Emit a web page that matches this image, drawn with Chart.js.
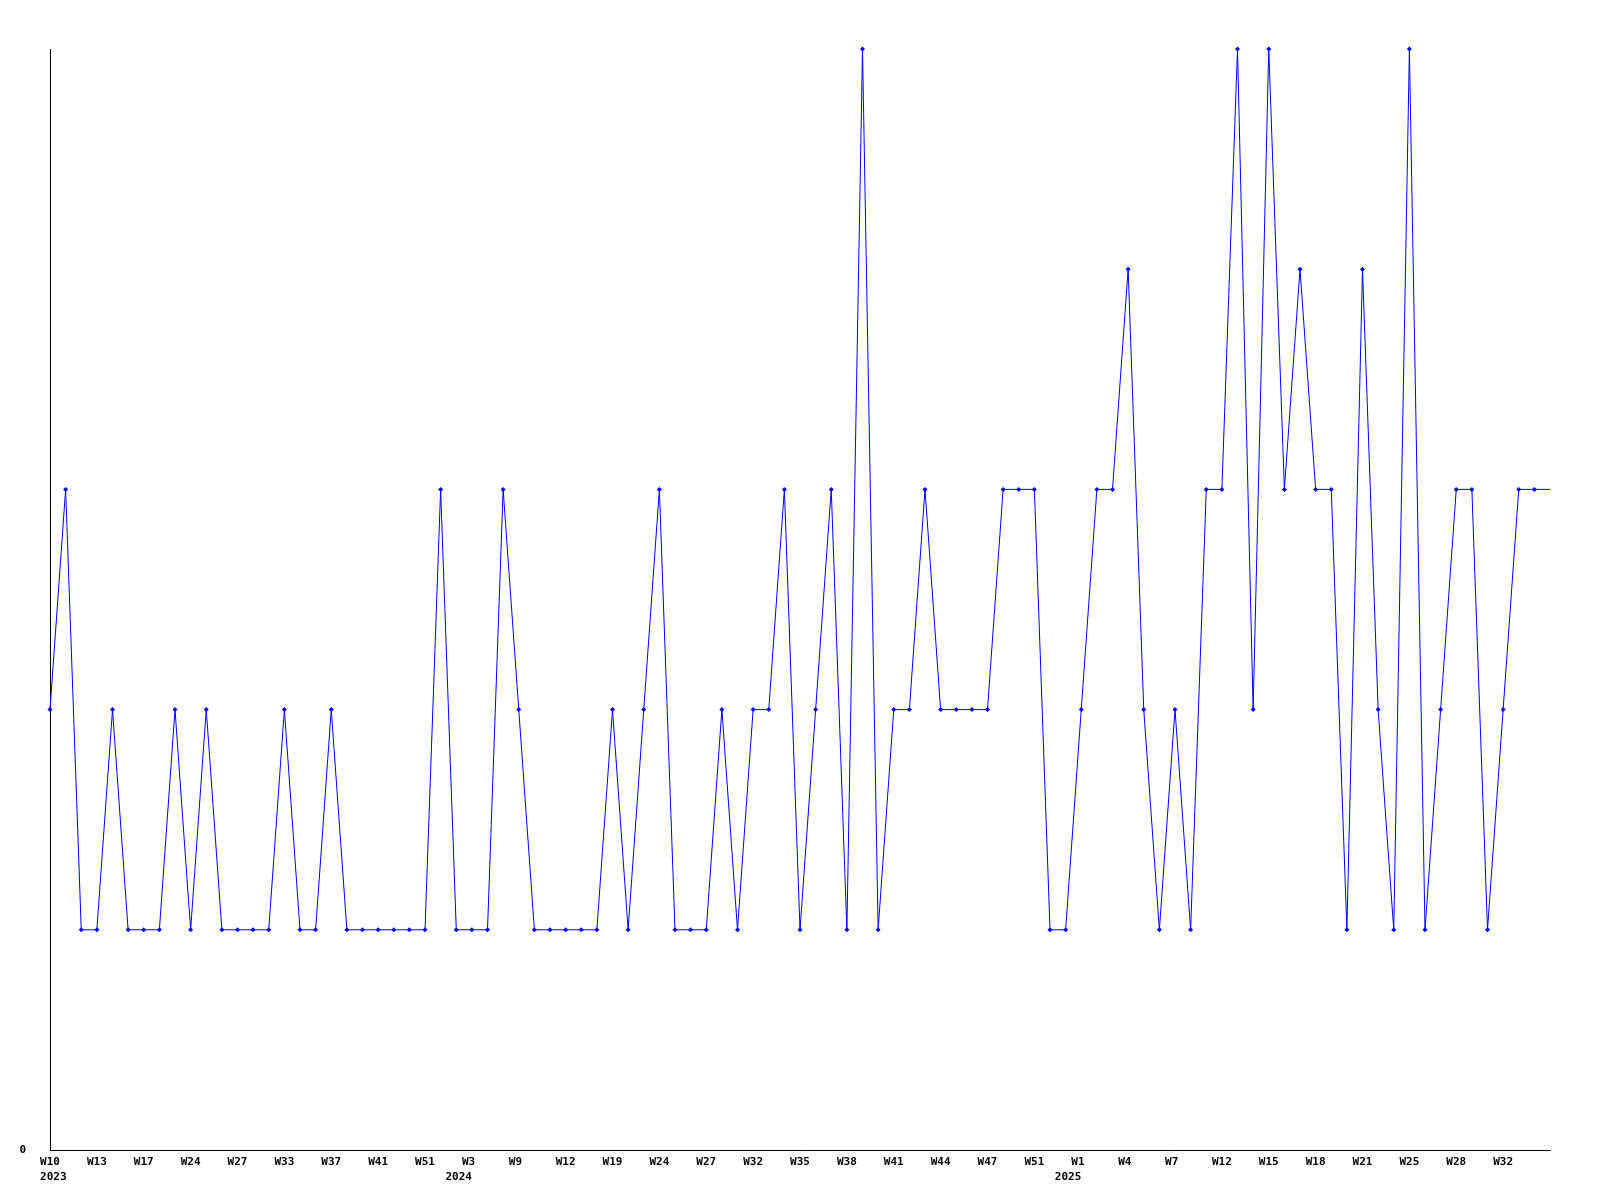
<!DOCTYPE html>
<html>
<head>
<meta charset="utf-8">
<script src="https://cdn.jsdelivr.net/npm/chart.js@4"></script>
<style>
  body { margin: 0; background: #fff; }
  canvas { display: block; }
</style>
</head>
<body>
<canvas id="chart" width="1600" height="1200"></canvas>
<script>
// weekly counts, one label per week that has data
let weeks = [
  'W10','W11','W12','W13','W14','W16','W17','W19','W22','W24',
  'W25','W26','W27','W29','W31','W33','W34','W36','W37','W38',
  'W40','W41','W45','W48','W51','W52','W2','W3','W5','W7',
  'W9','W10','W11','W12','W14','W17','W19','W21','W23','W24',
  'W25','W26','W27','W29','W30','W32','W33','W34','W35','W36',
  'W37','W38','W39','W40','W41','W42','W43','W44','W45','W46',
  'W47','W48','W49','W51','W52','W53','W1','W2','W3','W4',
  'W5','W6','W7','W9','W10','W12','W13','W14','W15','W16',
  'W17','W18','W19','W20','W21','W22','W24','W25','W26','W27',
  'W28','W29','W31','W32','W33','W34','W35'
]
let years = { 0: '2023', 27: '2024', 66: '2025' }
let counts = [
  2,3,1,1,2,1,1,1,2,1,
  2,1,1,1,1,2,1,1,2,1,
  1,1,1,1,1,3,1,1,1,3,
  2,1,1,1,1,1,2,1,2,3,
  1,1,1,2,1,2,2,3,1,2,
  3,1,5,1,2,2,3,2,2,2,
  2,3,3,3,1,1,2,3,3,4,
  2,1,2,1,3,3,5,2,5,3,
  4,3,3,1,4,2,1,5,1,2,
  3,3,1,2,3,3,3
]

Chart.defaults.font.family = '"DejaVu Sans Mono", "Liberation Mono", monospace'
Chart.defaults.font.size = 11
Chart.defaults.font.weight = 'bold'
Chart.defaults.color = '#000'

const ctx = document.getElementById('chart').getContext('2d');

const myChart = new Chart(ctx, {
  type: 'line',
  data: {
    labels: weeks,
    datasets: [{
      data: counts,
      borderColor: '#0000ff',
      backgroundColor: '#0000ff',
      borderWidth: 1,
      tension: 0,
      pointStyle: 'rectRot',
      pointRadius: c => c.dataIndex === counts.length - 1 ? 0 : 2.5,
      pointBorderWidth: 0,
      clip: false
    }]
  },
  options: {
    responsive: false,
    animation: false,
    layout: { padding: { top: 49, right: 50, left: 0, bottom: 0 } },
    plugins: { legend: { display: false }, tooltip: { enabled: false } },
    scales: {
      x: {
        offset: false,
        grid: { display: false, drawTicks: false },
        border: { color: '#000', width: 1 },
        ticks: {
          autoSkip: false,
          maxRotation: 0,
          padding: 4,
          font: { lineHeight: 1.4 },
          callback: function(val, i) {
            if (i % 3 !== 0 || i >= counts.length - 1) return null
            // labels sit like fixed-width text, 3 chars wide
            let w = weeks[i].padEnd(3, ' ')
            if (!years[i]) return w
            let y = i === 0 ? ' ' + years[i] : years[i] + '    '
            return [w, y]
          }
        },
        afterFit: s => { s.height = 50 }
      },
      y: {
        min: 0,
        max: 5,
        grid: { display: false, drawTicks: false },
        border: { color: '#000', width: 1 },
        ticks: {
          stepSize: 1,
          padding: 24,
          callback: v => v === 0 ? '0' : null
        },
        afterFit: s => { s.width = 50 }
      }
    }
  }
});
</script>
</body>
</html>
